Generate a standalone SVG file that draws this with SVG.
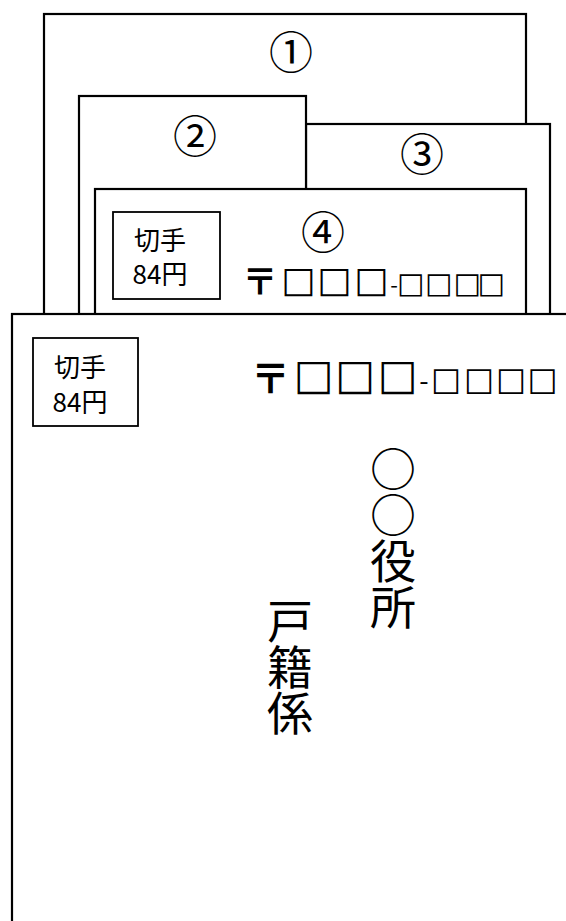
<svg xmlns="http://www.w3.org/2000/svg" width="566" height="921" viewBox="0 0 566 921">
<style>
.env{fill:#fff;stroke:#000;stroke-width:2.2}
.stamp{fill:#fff;stroke:#000;stroke-width:1.8}
.jp{font-family:"Noto Sans CJK JP","Noto Sans",sans-serif;fill:#000}
.num{font-size:44px;text-anchor:middle}
.st{font-size:26px;text-anchor:middle}
.vt{font-size:46px;writing-mode:vertical-rl}
.pm{text-anchor:middle}
.yu{font-family:"Noto Sans CJK JP",sans-serif;font-weight:700}
.sq{font-family:"DejaVu Sans",sans-serif;font-weight:700}
</style>
<rect width="566" height="921" fill="#fff"/>
<g id="env1">
<rect class="env" x="44" y="14" width="482" height="310"/>
<text class="jp num" x="291" y="69">①</text>
</g>
<g id="env3">
<rect class="env" x="306" y="124" width="244" height="200"/>
<text class="jp num" x="422" y="171">③</text>
</g>
<g id="env2">
<rect class="env" x="79" y="96" width="227" height="228"/>
<text class="jp num" x="195" y="153">②</text>
</g>
<g id="env4">
<rect class="env" x="95" y="189" width="431" height="135"/>
<text class="jp num" x="323" y="249">④</text>
<rect class="stamp" x="113" y="212" width="107" height="87"/>
<text class="jp st" x="160" y="250">切手</text>
<text class="jp st" x="160" y="284">84円</text>
<text class="jp pm"><tspan class="yu" font-size="36" x="260" y="295">〒</tspan><tspan class="sq" font-size="36" x="298.5 334.5 371.5" y="292">□□□</tspan><tspan font-size="22" x="394" y="293">-</tspan><tspan class="sq" font-size="29" x="411 439 467.5 491.5" y="293">□□□□</tspan></text>
</g>
<g id="env-main">
<rect class="env" x="12" y="314" width="600" height="700"/>
<rect class="stamp" x="33" y="338" width="105" height="88"/>
<text class="jp st" x="80" y="377">切手</text>
<text class="jp st" x="80" y="412">84円</text>
<text class="jp pm"><tspan class="yu" font-size="40" x="270.5" y="393">〒</tspan><tspan class="sq" font-size="42" x="313.5 355 397.5" y="389">□□□</tspan><tspan font-size="27" x="424" y="391">-</tspan><tspan class="sq" font-size="32" x="446 479 511 542.5" y="390">□□□□</tspan></text>
<text class="jp vt" x="393" y="446">○○役所</text>
<text class="jp vt" x="290" y="598">戸籍係</text>
</g>
</svg>
